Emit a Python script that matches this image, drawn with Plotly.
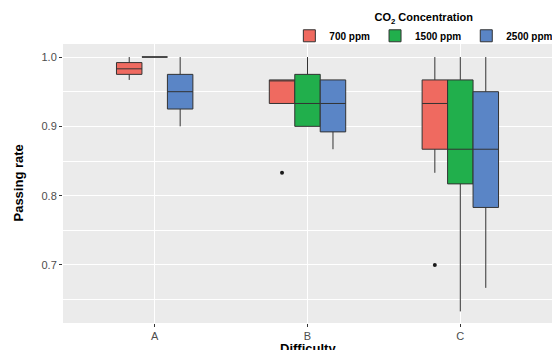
import plotly.graph_objects as go

categories = ["A", "B", "C"]
series = ["700 ppm", "1500 ppm", "2500 ppm"]
colors = ["#EF6A60", "#21AF4C", "#5A85C6"]

q1 = {
    "700 ppm": [0.975, 0.933, 0.867],
    "1500 ppm": [1.0, 0.900, 0.817],
    "2500 ppm": [0.925, 0.892, 0.783],
}
median = {
    "700 ppm": [0.983, 0.967, 0.933],
    "1500 ppm": [1.0, 0.933, 0.867],
    "2500 ppm": [0.950, 0.933, 0.867],
}
q3 = {
    "700 ppm": [0.992, 0.967, 0.967],
    "1500 ppm": [1.0, 0.975, 0.967],
    "2500 ppm": [0.975, 0.967, 0.950],
}
lower_whisker = {
    "700 ppm": [0.967, 0.933, 0.833],
    "1500 ppm": [1.0, 0.900, 0.633],
    "2500 ppm": [0.900, 0.867, 0.667],
}
upper_whisker = {
    "700 ppm": [1.0, 0.967, 1.0],
    "1500 ppm": [1.0, 1.0, 1.0],
    "2500 ppm": [1.0, 0.967, 1.0],
}
outlier_x = {"700 ppm": ["B", "C"], "1500 ppm": categories, "2500 ppm": categories}
outlier_y = {"700 ppm": [0.833, 0.700], "1500 ppm": [None, None, None], "2500 ppm": [None, None, None]}

x_title = "Difficulty"
y_title = "Passing rate"

FONT = "Liberation Sans, Arial, sans-serif"

fig = go.Figure()
for s, c in zip(series, colors):
    fig.add_trace(go.Box(
        x=categories, q1=q1[s], median=median[s], q3=q3[s],
        lowerfence=lower_whisker[s], upperfence=upper_whisker[s],
        name="<b>" + s + "</b>", legendgroup=s, offsetgroup=s,
        fillcolor=c, line=dict(color="#333333", width=1),
        whiskerwidth=0, boxpoints=False, hoverinfo="skip",
    ))
for s in series:
    fig.add_trace(go.Scatter(
        x=outlier_x[s], y=outlier_y[s], mode="markers", offsetgroup=s,
        legendgroup=s, showlegend=False,
        marker=dict(color="#1a1a1a", size=4), hoverinfo="skip",
    ))

fig.update_layout(
    width=552, height=350,
    margin=dict(l=63, r=0, t=44, b=27, autoexpand=False),
    paper_bgcolor="white", plot_bgcolor="#EBEBEB",
    boxmode="group", boxgap=0.5, boxgroupgap=0,
    scattermode="group", scattergap=0.5,
    font=dict(family=FONT, color="#4D4D4D"),
    legend=dict(
        orientation="h", x=1.013, xanchor="right", y=0.975, yanchor="bottom",
        title=dict(text="<b>CO<sub>2</sub> Concentration</b>", side="top center",
                   font=dict(size=11, color="#000000")),
        font=dict(size=10, color="#000000"),
        itemwidth=30, bgcolor="rgba(0,0,0,0)",
    ),
    xaxis=dict(
        type="category", categoryorder="array", categoryarray=categories,
        range=[-0.6, 2.6], showgrid=True, gridcolor="white", gridwidth=1,
        ticks="outside", ticklen=3, tickcolor="#333333",
        tickfont=dict(size=11, color="#4D4D4D"),
        zeroline=False, automargin=False,
    ),
    yaxis=dict(
        range=[0.6163, 1.0188], dtick=0.1, tick0=0.0, tickformat=".1f",
        showgrid=True, gridcolor="white", gridwidth=1,
        minor=dict(dtick=0.05, tick0=0.0, showgrid=True, gridcolor="white", gridwidth=0.5),
        ticks="outside", ticklen=3, tickcolor="#333333",
        tickfont=dict(size=11, color="#4D4D4D"),
        zeroline=False, automargin=False,
    ),
    annotations=[
        dict(text="<b>" + x_title + "</b>", xref="paper", yref="paper",
             x=0.5, y=-0.057, xanchor="center", yanchor="top", showarrow=False,
             font=dict(size=13, color="#000000")),
        dict(text="<b>" + y_title + "</b>", xref="paper", yref="paper",
             x=-0.092, y=0.5, xanchor="center", yanchor="middle", textangle=-90,
             showarrow=False, font=dict(size=13, color="#000000")),
    ],
)

fig.write_html("out.html")
